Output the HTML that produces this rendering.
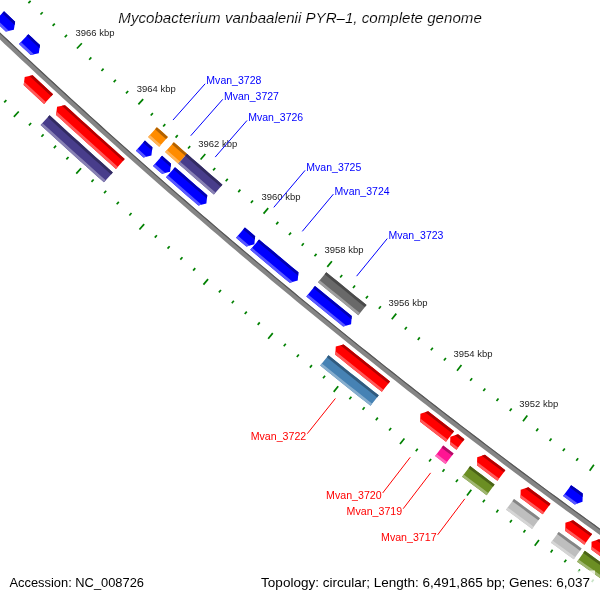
<!DOCTYPE html>
<html><head><meta charset="utf-8"><style>
html,body{margin:0;padding:0;background:#fff;width:600px;height:600px;overflow:hidden}
svg{display:block;will-change:transform}
text{font-family:"Liberation Sans",sans-serif}
.thin{stroke:#fff;stroke-width:0.15px}
</style></head><body>
<svg width="600" height="600" viewBox="0 0 600 600">
<defs></defs>
<rect width="600" height="600" fill="#fff"/>
<polygon points="-43.52,-9.11 -37.81,-3.61 -32.09,1.88 -26.37,7.37 -20.63,12.85 -14.89,18.32 -9.15,23.78 -3.39,29.23 2.37,34.68 8.14,40.12 13.91,45.55 19.69,50.97 25.49,56.39 31.28,61.80 37.09,67.20 42.90,72.59 48.72,77.97 54.55,83.35 60.38,88.72 66.22,94.08 72.07,99.43 77.93,104.77 83.79,110.11 89.66,115.44 95.54,120.76 101.42,126.07 107.31,131.38 113.21,136.68 119.12,141.97 125.03,147.25 130.95,152.52 136.88,157.79 142.81,163.04 148.75,168.29 154.70,173.53 160.66,178.77 166.62,183.99 172.59,189.21 178.57,194.42 184.55,199.62 190.54,204.81 196.54,210.00 202.54,215.17 208.56,220.34 214.57,225.50 220.60,230.66 226.63,235.80 232.67,240.94 238.72,246.07 244.77,251.19 250.83,256.30 256.90,261.40 262.97,266.50 269.05,271.58 275.14,276.66 281.24,281.73 287.34,286.80 293.44,291.85 299.56,296.90 305.68,301.93 311.81,306.96 317.95,311.99 324.09,317.00 330.24,322.00 336.39,327.00 342.55,331.99 348.72,336.97 354.90,341.94 361.08,346.90 367.27,351.86 373.47,356.81 379.67,361.74 385.88,366.67 392.09,371.59 398.32,376.51 404.54,381.41 410.78,386.31 417.02,391.20 423.27,396.08 429.53,400.95 435.79,405.81 442.06,410.66 448.33,415.51 454.61,420.35 460.90,425.18 467.20,430.00 473.50,434.81 479.80,439.61 486.12,444.41 492.44,449.19 498.76,453.97 505.10,458.74 511.44,463.50 517.78,468.25 524.14,473.00 530.50,477.73 536.86,482.46 543.23,487.18 549.61,491.89 555.99,496.59 562.39,501.28 568.78,505.96 575.19,510.64 581.60,515.30 588.01,519.96 594.43,524.61 600.86,529.25 607.30,533.88 613.74,538.50 620.18,543.12 626.64,547.72 633.10,552.32 630.08,556.56 623.62,551.96 617.16,547.35 610.71,542.73 604.26,538.10 597.82,533.47 591.39,528.82 584.96,524.17 578.54,519.51 572.12,514.84 565.71,510.16 559.31,505.47 552.91,500.78 546.52,496.07 540.14,491.36 533.76,486.64 527.39,481.90 521.03,477.17 514.67,472.42 508.32,467.66 501.97,462.90 495.63,458.12 489.30,453.34 482.98,448.55 476.66,443.75 470.34,438.94 464.04,434.13 457.74,429.30 451.44,424.47 445.16,419.63 438.88,414.78 432.60,409.92 426.33,405.05 420.07,400.18 413.82,395.29 407.57,390.40 401.33,385.50 395.10,380.59 388.87,375.67 382.65,370.75 376.43,365.81 370.22,360.87 364.02,355.92 357.83,350.96 351.64,345.99 345.46,341.02 339.28,336.03 333.12,331.04 326.96,326.04 320.80,321.03 314.65,316.01 308.51,310.99 302.38,305.95 296.25,300.91 290.13,295.86 284.02,290.80 277.91,285.73 271.81,280.66 265.72,275.57 259.63,270.48 253.55,265.38 247.48,260.27 241.42,255.16 235.36,250.03 229.31,244.90 223.26,239.76 217.22,234.61 211.19,229.45 205.17,224.29 199.15,219.12 193.14,213.93 187.14,208.74 181.14,203.55 175.15,198.34 169.17,193.13 163.20,187.91 157.23,182.68 151.27,177.44 145.31,172.19 139.37,166.94 133.43,161.68 127.49,156.41 121.57,151.13 115.65,145.84 109.74,140.55 103.84,135.25 97.94,129.94 92.05,124.62 86.17,119.29 80.29,113.96 74.42,108.62 68.56,103.27 62.71,97.91 56.86,92.54 51.02,87.17 45.19,81.79 39.37,76.40 33.55,71.01 27.74,65.60 21.94,60.19 16.14,54.77 10.35,49.34 4.57,43.90 -1.20,38.46 -6.97,33.01 -12.73,27.55 -18.48,22.08 -24.22,16.61 -29.96,11.13 -35.69,5.64 -41.41,0.14 -47.13,-5.37" fill="#858585"/>
<polygon points="-43.52,-9.11 -37.81,-3.61 -32.09,1.88 -26.37,7.37 -20.63,12.85 -14.89,18.32 -9.15,23.78 -3.39,29.23 2.37,34.68 8.14,40.12 13.91,45.55 19.69,50.97 25.49,56.39 31.28,61.80 37.09,67.20 42.90,72.59 48.72,77.97 54.55,83.35 60.38,88.72 66.22,94.08 72.07,99.43 77.93,104.77 83.79,110.11 89.66,115.44 95.54,120.76 101.42,126.07 107.31,131.38 113.21,136.68 119.12,141.97 125.03,147.25 130.95,152.52 136.88,157.79 142.81,163.04 148.75,168.29 154.70,173.53 160.66,178.77 166.62,183.99 172.59,189.21 178.57,194.42 184.55,199.62 190.54,204.81 196.54,210.00 202.54,215.17 208.56,220.34 214.57,225.50 220.60,230.66 226.63,235.80 232.67,240.94 238.72,246.07 244.77,251.19 250.83,256.30 256.90,261.40 262.97,266.50 269.05,271.58 275.14,276.66 281.24,281.73 287.34,286.80 293.44,291.85 299.56,296.90 305.68,301.93 311.81,306.96 317.95,311.99 324.09,317.00 330.24,322.00 336.39,327.00 342.55,331.99 348.72,336.97 354.90,341.94 361.08,346.90 367.27,351.86 373.47,356.81 379.67,361.74 385.88,366.67 392.09,371.59 398.32,376.51 404.54,381.41 410.78,386.31 417.02,391.20 423.27,396.08 429.53,400.95 435.79,405.81 442.06,410.66 448.33,415.51 454.61,420.35 460.90,425.18 467.20,430.00 473.50,434.81 479.80,439.61 486.12,444.41 492.44,449.19 498.76,453.97 505.10,458.74 511.44,463.50 517.78,468.25 524.14,473.00 530.50,477.73 536.86,482.46 543.23,487.18 549.61,491.89 555.99,496.59 562.39,501.28 568.78,505.96 575.19,510.64 581.60,515.30 588.01,519.96 594.43,524.61 600.86,529.25 607.30,533.88 613.74,538.50 620.18,543.12 626.64,547.72 633.10,552.32 632.46,553.22 626.00,548.62 619.54,544.01 613.10,539.40 606.65,534.77 600.22,530.14 593.79,525.50 587.37,520.85 580.95,516.19 574.54,511.53 568.13,506.85 561.73,502.17 555.34,497.47 548.96,492.77 542.58,488.06 536.21,483.34 529.84,478.61 523.48,473.88 517.13,469.13 510.78,464.38 504.44,459.62 498.10,454.85 491.77,450.07 485.45,445.28 479.14,440.49 472.83,435.68 466.53,430.87 460.23,426.05 453.94,421.22 447.66,416.38 441.38,411.53 435.11,406.68 428.85,401.82 422.59,396.94 416.34,392.06 410.10,387.17 403.86,382.28 397.63,377.37 391.41,372.46 385.19,367.54 378.98,362.60 372.78,357.67 366.58,352.72 360.39,347.76 354.21,342.80 348.03,337.83 341.86,332.84 335.70,327.86 329.54,322.86 323.39,317.85 317.25,312.84 311.11,307.82 304.98,302.78 298.86,297.75 292.74,292.70 286.63,287.64 280.53,282.58 274.44,277.51 268.35,272.43 262.27,267.34 256.19,262.24 250.12,257.14 244.06,252.03 238.01,246.90 231.96,241.78 225.92,236.64 219.89,231.49 213.86,226.34 207.84,221.18 201.83,216.01 195.82,210.83 189.82,205.64 183.83,200.45 177.84,195.25 171.87,190.04 165.90,184.82 159.93,179.59 153.98,174.36 148.03,169.12 142.08,163.87 136.15,158.61 130.22,153.34 124.30,148.07 118.38,142.79 112.48,137.50 106.58,132.20 100.68,126.89 94.80,121.58 88.92,116.25 83.05,110.92 77.19,105.59 71.33,100.24 65.48,94.89 59.64,89.53 53.80,84.16 47.97,78.78 42.15,73.39 36.34,68.00 30.53,62.60 24.73,57.19 18.94,51.78 13.16,46.35 7.38,40.92 1.61,35.48 -4.15,30.03 -9.91,24.58 -15.65,19.11 -21.39,13.64 -27.13,8.16 -32.85,2.68 -38.57,-2.82 -44.28,-8.32" fill="#555555"/>
<polygon points="4.06,11.22 9.59,16.46 15.13,21.70 13.88,29.87 5.80,31.59 0.24,26.34 -5.31,21.08" fill="#0000ff"/>
<polygon points="4.06,11.22 9.59,16.46 15.13,21.70 14.63,24.94 2.20,13.18" fill="#0000b2"/><polygon points="-3.45,19.13 9.01,30.91 5.80,31.59 0.24,26.34 -5.31,21.08" fill="#5959ff"/>
<polygon points="28.35,34.14 32.23,37.77 36.11,41.41 40.00,45.04 38.79,53.21 30.72,54.98 26.82,51.34 22.93,47.70 19.04,44.06" fill="#0000ff"/>
<polygon points="28.35,34.14 32.23,37.77 36.11,41.41 40.00,45.04 39.51,48.28 26.50,36.11" fill="#0000b2"/><polygon points="20.89,42.09 33.92,54.28 30.72,54.98 26.82,51.34 22.93,47.70 19.04,44.06" fill="#5959ff"/>
<polygon points="144.96,140.62 148.68,143.93 152.41,147.24 151.42,155.43 143.40,157.42 139.66,154.10 135.92,150.78" fill="#0000ff"/>
<polygon points="144.96,140.62 148.68,143.93 152.41,147.24 152.02,150.49 143.16,142.64" fill="#0000b2"/><polygon points="137.72,148.77 146.58,156.63 143.40,157.42 139.66,154.10 135.92,150.78" fill="#5959ff"/>
<polygon points="162.05,155.75 166.54,159.71 171.03,163.66 170.07,171.86 162.06,173.87 157.55,169.92 153.06,165.95" fill="#0000ff"/>
<polygon points="162.05,155.75 166.54,159.71 171.03,163.66 170.65,166.91 160.26,157.78" fill="#0000b2"/><polygon points="154.84,163.93 165.24,173.07 162.06,173.87 157.55,169.92 153.06,165.95" fill="#5959ff"/>
<polygon points="175.00,167.14 180.37,171.84 185.73,176.52 191.11,181.21 196.49,185.88 201.88,190.55 207.27,195.21 206.37,203.43 198.38,205.51 192.97,200.83 187.57,196.15 182.18,191.47 176.79,186.77 171.41,182.07 166.04,177.37" fill="#0000ff"/>
<polygon points="175.00,167.14 180.37,171.84 185.73,176.52 191.11,181.21 196.49,185.88 201.88,190.55 207.27,195.21 206.91,198.47 173.22,169.17" fill="#0000b2"/><polygon points="167.82,175.34 201.55,204.68 198.38,205.51 192.97,200.83 187.57,196.15 182.18,191.47 176.79,186.77 171.41,182.07 166.04,177.37" fill="#5959ff"/>
<polygon points="244.90,227.44 250.03,231.80 255.17,236.14 254.36,244.36 246.39,246.53 241.24,242.17 236.10,237.81" fill="#0000ff"/>
<polygon points="244.90,227.44 250.03,231.80 255.17,236.14 254.85,239.41 243.15,229.50" fill="#0000b2"/><polygon points="237.84,235.75 249.56,245.67 246.39,246.53 241.24,242.17 236.10,237.81" fill="#5959ff"/>
<polygon points="259.05,239.42 264.66,244.15 270.28,248.87 275.90,253.58 281.52,258.29 287.16,262.98 292.80,267.68 298.44,272.36 297.71,280.59 289.76,282.83 284.10,278.14 278.45,273.43 272.81,268.73 267.17,264.01 261.53,259.29 255.91,254.56 250.28,249.82" fill="#0000ff"/>
<polygon points="259.05,239.42 264.66,244.15 270.28,248.87 275.90,253.58 281.52,258.29 287.16,262.98 292.80,267.68 298.44,272.36 298.15,275.63 257.31,241.49" fill="#0000b2"/><polygon points="252.02,247.76 292.92,281.94 289.76,282.83 284.10,278.14 278.45,273.43 272.81,268.73 267.17,264.01 261.53,259.29 255.91,254.56 250.28,249.82" fill="#5959ff"/>
<polygon points="314.97,286.01 321.08,291.03 327.20,296.04 333.32,301.04 339.45,306.04 345.59,311.03 351.74,316.01 351.11,324.24 343.18,326.58 337.02,321.59 330.87,316.59 324.72,311.58 318.58,306.57 312.45,301.54 306.33,296.51" fill="#0000ff"/>
<polygon points="314.97,286.01 321.08,291.03 327.20,296.04 333.32,301.04 339.45,306.04 345.59,311.03 351.74,316.01 351.48,319.28 313.25,288.09" fill="#0000b2"/><polygon points="308.04,294.43 346.33,325.65 343.18,326.58 337.02,321.59 330.87,316.59 324.72,311.58 318.58,306.57 312.45,301.54 306.33,296.51" fill="#5959ff"/>
<polygon points="571.14,485.13 576.93,489.37 582.73,493.61 582.51,501.87 574.71,504.59 568.90,500.35 563.10,496.10" fill="#0000ff"/>
<polygon points="571.14,485.13 576.93,489.37 582.73,493.61 582.64,496.89 569.55,487.31" fill="#0000b2"/><polygon points="564.69,493.92 577.81,503.51 574.71,504.59 568.90,500.35 563.10,496.10" fill="#5959ff"/>
<polygon points="156.85,127.24 162.35,132.12 167.85,137.00 159.18,146.81 153.66,141.92 148.14,137.03" fill="#ff8c00"/>
<polygon points="156.85,127.24 162.35,132.12 167.85,137.00 166.07,139.02 160.56,134.14 155.05,129.26" fill="#b26200"/><polygon points="149.94,135.01 155.45,139.90 160.97,144.79 159.18,146.81 153.66,141.92 148.14,137.03" fill="#ffb459"/>
<polygon points="173.81,142.26 178.19,146.11 182.57,149.96 186.95,153.81 178.32,163.66 173.92,159.81 169.54,155.95 165.15,152.09" fill="#ff8c00"/>
<polygon points="173.81,142.26 178.19,146.11 182.57,149.96 186.95,153.81 185.17,155.84 180.79,151.99 176.41,148.14 172.03,144.29" fill="#b26200"/><polygon points="166.94,150.06 171.32,153.92 175.71,157.78 180.10,161.63 178.32,163.66 173.92,159.81 169.54,155.95 165.15,152.09" fill="#ffb459"/>
<polygon points="186.95,153.81 192.85,158.97 198.75,164.12 204.66,169.27 210.58,174.41 216.50,179.53 222.43,184.66 213.87,194.58 207.93,189.44 201.99,184.30 196.06,179.15 190.14,174.00 184.23,168.83 178.32,163.66" fill="#483d8b"/>
<polygon points="186.95,153.81 192.85,158.97 198.75,164.12 204.66,169.27 210.58,174.41 216.50,179.53 222.43,184.66 220.67,186.70 214.73,181.58 208.81,176.45 202.89,171.31 196.98,166.16 191.07,161.00 185.17,155.84" fill="#322b61"/><polygon points="180.10,161.63 186.00,166.80 191.92,171.96 197.84,177.12 203.76,182.26 209.70,187.40 215.64,192.53 213.87,194.58 207.93,189.44 201.99,184.30 196.06,179.15 190.14,174.00 184.23,168.83 178.32,163.66" fill="#8881b4"/>
<polygon points="326.34,272.18 332.07,276.89 337.80,281.59 343.54,286.28 349.28,290.96 355.03,295.64 360.79,300.31 366.55,304.97 358.32,315.16 352.54,310.49 346.77,305.81 341.01,301.12 335.25,296.43 329.50,291.72 323.76,287.02 318.02,282.30" fill="#696969"/>
<polygon points="326.34,272.18 332.07,276.89 337.80,281.59 343.54,286.28 349.28,290.96 355.03,295.64 360.79,300.31 366.55,304.97 364.85,307.07 359.09,302.40 353.33,297.73 347.58,293.05 341.83,288.37 336.09,283.68 330.35,278.98 324.62,274.27" fill="#4a4a4a"/><polygon points="319.73,280.22 325.47,284.93 331.21,289.64 336.96,294.33 342.72,299.03 348.48,303.71 354.24,308.39 360.01,313.06 358.32,315.16 352.54,310.49 346.77,305.81 341.01,301.12 335.25,296.43 329.50,291.72 323.76,287.02 318.02,282.30" fill="#9e9e9e"/>
<polygon points="24.71,76.99 32.66,75.36 37.74,80.08 42.84,84.79 47.93,89.49 53.04,94.19 44.10,103.91 38.99,99.20 33.88,94.48 28.78,89.76 23.68,85.04" fill="#ff0000"/>
<polygon points="29.41,76.03 32.66,75.36 37.74,80.08 42.84,84.79 47.93,89.49 53.04,94.19 51.21,96.18" fill="#b20000"/><polygon points="24.10,81.75 45.93,101.92 44.10,103.91 38.99,99.20 33.88,94.48 28.78,89.76 23.68,85.04" fill="#ff5959"/>
<polygon points="57.06,106.84 64.99,105.15 70.39,110.08 75.80,115.01 81.21,119.93 86.63,124.84 92.05,129.74 97.48,134.64 102.91,139.53 108.36,144.41 113.80,149.29 119.26,154.16 124.72,159.02 115.94,168.88 110.47,164.01 105.01,159.13 99.55,154.24 94.09,149.35 88.64,144.44 83.20,139.54 77.77,134.62 72.34,129.70 66.92,124.77 61.50,119.84 56.09,114.90" fill="#ff0000"/>
<polygon points="61.75,105.85 64.99,105.15 70.39,110.08 75.80,115.01 81.21,119.93 86.63,124.84 92.05,129.74 97.48,134.64 102.91,139.53 108.36,144.41 113.80,149.29 119.26,154.16 124.72,159.02 122.92,161.04" fill="#b20000"/><polygon points="56.49,111.60 117.74,166.86 115.94,168.88 110.47,164.01 105.01,159.13 99.55,154.24 94.09,149.35 88.64,144.44 83.20,139.54 77.77,134.62 72.34,129.70 66.92,124.77 61.50,119.84 56.09,114.90" fill="#ff5959"/>
<polygon points="335.78,346.57 343.59,344.39 349.37,349.04 355.16,353.69 360.95,358.33 366.75,362.97 372.56,367.59 378.37,372.21 384.19,376.82 390.02,381.42 381.84,391.79 376.00,387.17 370.17,382.55 364.34,377.92 358.52,373.28 352.71,368.64 346.90,363.99 341.10,359.33 335.30,354.67" fill="#ff0000"/>
<polygon points="340.39,345.28 343.59,344.39 349.37,349.04 355.16,353.69 360.95,358.33 366.75,362.97 372.56,367.59 378.37,372.21 384.19,376.82 390.02,381.42 388.34,383.54" fill="#b20000"/><polygon points="335.50,351.35 383.51,389.67 381.84,391.79 376.00,387.17 370.17,382.55 364.34,377.92 358.52,373.28 352.71,368.64 346.90,363.99 341.10,359.33 335.30,354.67" fill="#ff5959"/>
<polygon points="420.42,413.63 428.19,411.31 433.35,415.31 438.51,419.30 443.68,423.29 448.86,427.28 454.04,431.25 446.00,441.73 440.81,437.74 435.62,433.75 430.44,429.75 425.27,425.74 420.09,421.73" fill="#ff0000"/>
<polygon points="425.01,412.26 428.19,411.31 433.35,415.31 438.51,419.30 443.68,423.29 448.86,427.28 454.04,431.25 452.39,433.40" fill="#b20000"/><polygon points="420.23,418.42 447.64,439.58 446.00,441.73 440.81,437.74 435.62,433.75 430.44,429.75 425.27,425.74 420.09,421.73" fill="#ff5959"/>
<polygon points="450.34,436.73 458.09,434.36 464.45,439.23 456.44,449.72 450.06,444.84" fill="#ff0000"/>
<polygon points="454.92,435.33 458.09,434.36 464.45,439.23 462.82,441.38" fill="#b20000"/><polygon points="450.17,441.52 458.08,447.57 456.44,449.72 450.06,444.84" fill="#ff5959"/>
<polygon points="477.20,457.23 484.94,454.81 490.04,458.66 495.13,462.50 500.24,466.34 505.34,470.18 497.42,480.74 492.30,476.90 487.19,473.05 482.08,469.19 476.98,465.33" fill="#ff0000"/>
<polygon points="481.78,455.80 484.94,454.81 490.04,458.66 495.13,462.50 500.24,466.34 505.34,470.18 503.72,472.34" fill="#b20000"/><polygon points="477.07,462.02 499.04,478.58 497.42,480.74 492.30,476.90 487.19,473.05 482.08,469.19 476.98,465.33" fill="#ff5959"/>
<polygon points="520.66,489.86 528.38,487.37 533.91,491.47 539.44,495.57 544.99,499.66 550.53,503.74 542.71,514.37 537.15,510.28 531.60,506.18 526.05,502.08 520.51,497.97" fill="#ff0000"/>
<polygon points="525.22,488.39 528.38,487.37 533.91,491.47 539.44,495.57 544.99,499.66 550.53,503.74 548.93,505.91" fill="#b20000"/><polygon points="520.57,494.65 544.31,512.20 542.71,514.37 537.15,510.28 531.60,506.18 526.05,502.08 520.51,497.97" fill="#ff5959"/>
<polygon points="565.39,522.80 573.08,520.24 579.40,524.83 585.73,529.42 592.06,534.00 584.33,544.70 577.99,540.11 571.65,535.51 565.31,530.91" fill="#ff0000"/>
<polygon points="569.94,521.29 573.08,520.24 579.40,524.83 585.73,529.42 592.06,534.00 590.48,536.18" fill="#b20000"/><polygon points="565.34,527.59 585.91,542.51 584.33,544.70 577.99,540.11 571.65,535.51 565.31,530.91" fill="#ff5959"/>
<polygon points="591.53,541.75 599.21,539.15 605.33,543.55 611.47,547.95 617.60,552.34 623.75,556.72 629.90,561.09 636.05,565.45 628.43,576.22 622.26,571.85 616.09,567.47 609.94,563.08 603.78,558.68 597.64,554.28 591.50,549.86" fill="#ff0000"/>
<polygon points="596.07,540.21 599.21,539.15 605.33,543.55 611.47,547.95 617.60,552.34 623.75,556.72 629.90,561.09 636.05,565.45 634.49,567.65" fill="#b20000"/><polygon points="591.51,546.54 629.99,574.02 628.43,576.22 622.26,571.85 616.09,567.47 609.94,563.08 603.78,558.68 597.64,554.28 591.50,549.86" fill="#ff5959"/>
<polygon points="49.58,115.31 55.30,120.54 61.02,125.76 66.75,130.97 72.48,136.17 78.22,141.37 83.97,146.56 89.73,151.74 95.49,156.92 101.26,162.08 107.04,167.24 112.82,172.39 103.98,182.33 98.18,177.17 92.39,172.00 86.61,166.82 80.84,161.63 75.07,156.44 69.31,151.24 63.55,146.03 57.80,140.81 52.06,135.59 46.33,130.36 40.60,125.12" fill="#483d8b"/>
<polygon points="49.58,115.31 55.30,120.54 61.02,125.76 66.75,130.97 72.48,136.17 78.22,141.37 83.97,146.56 89.73,151.74 95.49,156.92 101.26,162.08 107.04,167.24 112.82,172.39 111.02,174.41 105.24,169.26 99.46,164.10 93.69,158.93 87.92,153.75 82.16,148.57 76.41,143.37 70.67,138.18 64.93,132.97 59.20,127.75 53.47,122.53 47.76,117.30" fill="#322b61"/><polygon points="42.42,123.13 48.15,128.37 53.88,133.59 59.62,138.82 65.36,144.03 71.12,149.24 76.87,154.43 82.64,159.62 88.41,164.81 94.19,169.98 99.98,175.15 105.77,180.31 103.98,182.33 98.18,177.17 92.39,172.00 86.61,166.82 80.84,161.63 75.07,156.44 69.31,151.24 63.55,146.03 57.80,140.81 52.06,135.59 46.33,130.36 40.60,125.12" fill="#8881b4"/>
<polygon points="328.52,355.23 334.08,359.72 339.65,364.20 345.22,368.67 350.80,373.13 356.38,377.59 361.97,382.04 367.56,386.48 373.16,390.92 378.77,395.35 370.53,405.79 364.91,401.35 359.30,396.90 353.69,392.45 348.09,387.99 342.50,383.52 336.91,379.05 331.32,374.56 325.74,370.08 320.17,365.58" fill="#4682b4"/>
<polygon points="328.52,355.23 334.08,359.72 339.65,364.20 345.22,368.67 350.80,373.13 356.38,377.59 361.97,382.04 367.56,386.48 373.16,390.92 378.77,395.35 377.09,397.47 371.49,393.04 365.89,388.60 360.29,384.15 354.70,379.70 349.11,375.24 343.53,370.77 337.96,366.30 332.39,361.82 326.83,357.34" fill="#315b7e"/><polygon points="321.86,363.48 327.43,367.97 333.01,372.46 338.59,376.94 344.18,381.41 349.77,385.88 355.37,390.33 360.98,394.79 366.58,399.23 372.20,403.67 370.53,405.79 364.91,401.35 359.30,396.90 353.69,392.45 348.09,387.99 342.50,383.52 336.91,379.05 331.32,374.56 325.74,370.08 320.17,365.58" fill="#87aece"/>
<polygon points="443.22,445.52 448.40,449.49 453.59,453.45 445.52,464.02 440.32,460.05 435.12,456.07" fill="#ff1493"/>
<polygon points="443.22,445.52 448.40,449.49 453.59,453.45 451.95,455.60 446.76,451.63 441.58,447.66" fill="#b20e67"/><polygon points="436.77,453.93 441.96,457.90 447.15,461.88 445.52,464.02 440.32,460.05 435.12,456.07" fill="#ff66b9"/>
<polygon points="470.14,466.05 476.24,470.67 482.36,475.29 488.48,479.90 494.60,484.50 486.62,495.14 480.48,490.53 474.35,485.91 468.22,481.28 462.10,476.65" fill="#6b8e23"/>
<polygon points="470.14,466.05 476.24,470.67 482.36,475.29 488.48,479.90 494.60,484.50 492.98,486.66 486.85,482.06 480.73,477.44 474.62,472.83 468.51,468.20" fill="#4b6318"/><polygon points="463.73,474.49 469.85,479.13 475.97,483.75 482.10,488.37 488.24,492.98 486.62,495.14 480.48,490.53 474.35,485.91 468.22,481.28 462.10,476.65" fill="#9fb670"/>
<polygon points="514.00,498.99 519.18,502.83 524.36,506.67 529.54,510.51 534.73,514.34 539.93,518.16 532.05,528.88 526.84,525.04 521.64,521.21 516.44,517.36 511.25,513.51 506.06,509.66" fill="#bebebe"/>
<polygon points="514.00,498.99 519.18,502.83 524.36,506.67 529.54,510.51 534.73,514.34 539.93,518.16 538.33,520.34 533.13,516.51 527.94,512.68 522.75,508.84 517.57,505.00 512.39,501.15" fill="#858585"/><polygon points="507.67,507.49 512.86,511.34 518.05,515.19 523.24,519.03 528.44,522.87 533.65,526.70 532.05,528.88 526.84,525.04 521.64,521.21 516.44,517.36 511.25,513.51 506.06,509.66" fill="#d5d5d5"/>
<polygon points="558.73,531.93 564.44,536.08 570.15,540.23 575.86,544.37 581.58,548.51 573.79,559.29 568.06,555.15 562.33,551.00 556.61,546.84 550.89,542.68" fill="#bebebe"/>
<polygon points="558.73,531.93 564.44,536.08 570.15,540.23 575.86,544.37 581.58,548.51 580.00,550.70 574.28,546.56 568.56,542.42 562.85,538.27 557.14,534.11" fill="#858585"/><polygon points="552.49,540.49 558.20,544.66 563.92,548.81 569.65,552.96 575.37,557.10 573.79,559.29 568.06,555.15 562.33,551.00 556.61,546.84 550.89,542.68" fill="#d5d5d5"/>
<polygon points="584.84,550.86 590.66,555.05 596.49,559.24 602.32,563.42 608.16,567.59 614.01,571.75 619.86,575.91 625.71,580.06 618.02,590.91 612.16,586.75 606.29,582.59 600.44,578.41 594.59,574.23 588.74,570.05 582.90,565.85 577.06,561.65" fill="#6b8e23"/>
<polygon points="584.84,550.86 590.66,555.05 596.49,559.24 602.32,563.42 608.16,567.59 614.01,571.75 619.86,575.91 625.71,580.06 624.15,582.26 618.29,578.11 612.44,573.95 606.59,569.79 600.75,565.61 594.92,561.43 589.09,557.24 583.26,553.05" fill="#4b6318"/><polygon points="578.64,559.46 584.47,563.66 590.31,567.85 596.16,572.04 602.01,576.22 607.86,580.39 613.72,584.55 619.58,588.71 618.02,590.91 612.16,586.75 606.29,582.59 600.44,578.41 594.59,574.23 588.74,570.05 582.90,565.85 577.06,561.65" fill="#9fb670"/>
<line x1="-19.63" y1="-42.77" x2="-17.41" y2="-45.07" stroke="#008000" stroke-width="1.7"/>
<line x1="-79.27" y1="18.92" x2="-81.49" y2="21.22" stroke="#008000" stroke-width="1.7"/>
<line x1="-7.67" y1="-31.24" x2="-5.46" y2="-33.54" stroke="#008000" stroke-width="1.7"/>
<line x1="-67.14" y1="30.62" x2="-69.35" y2="32.93" stroke="#008000" stroke-width="1.7"/>
<line x1="4.32" y1="-19.74" x2="6.53" y2="-22.05" stroke="#008000" stroke-width="1.7"/>
<line x1="-54.97" y1="42.28" x2="-57.18" y2="44.60" stroke="#008000" stroke-width="1.7"/>
<line x1="16.34" y1="-8.28" x2="21.30" y2="-13.50" stroke="#008000" stroke-width="1.7"/>
<line x1="-42.76" y1="53.91" x2="-47.72" y2="59.13" stroke="#008000" stroke-width="1.7"/>
<line x1="28.40" y1="3.15" x2="30.60" y2="0.82" stroke="#008000" stroke-width="1.7"/>
<line x1="-30.53" y1="65.51" x2="-32.73" y2="67.83" stroke="#008000" stroke-width="1.7"/>
<line x1="40.49" y1="14.54" x2="42.68" y2="12.21" stroke="#008000" stroke-width="1.7"/>
<line x1="-18.26" y1="77.07" x2="-20.45" y2="79.40" stroke="#008000" stroke-width="1.7"/>
<line x1="52.61" y1="25.90" x2="54.80" y2="23.56" stroke="#008000" stroke-width="1.7"/>
<line x1="-5.96" y1="88.59" x2="-8.14" y2="90.93" stroke="#008000" stroke-width="1.7"/>
<line x1="64.77" y1="37.22" x2="66.95" y2="34.88" stroke="#008000" stroke-width="1.7"/>
<line x1="6.37" y1="100.08" x2="4.20" y2="102.43" stroke="#008000" stroke-width="1.7"/>
<line x1="76.96" y1="48.51" x2="81.84" y2="43.22" stroke="#008000" stroke-width="1.7"/>
<line x1="18.74" y1="111.54" x2="13.85" y2="116.83" stroke="#008000" stroke-width="1.7"/>
<line x1="89.18" y1="59.77" x2="91.34" y2="57.41" stroke="#008000" stroke-width="1.7"/>
<line x1="31.14" y1="122.96" x2="28.97" y2="125.32" stroke="#008000" stroke-width="1.7"/>
<line x1="101.43" y1="70.99" x2="103.59" y2="68.62" stroke="#008000" stroke-width="1.7"/>
<line x1="43.57" y1="134.34" x2="41.41" y2="136.71" stroke="#008000" stroke-width="1.7"/>
<line x1="113.71" y1="82.17" x2="115.86" y2="79.80" stroke="#008000" stroke-width="1.7"/>
<line x1="56.03" y1="145.69" x2="53.88" y2="148.06" stroke="#008000" stroke-width="1.7"/>
<line x1="126.03" y1="93.32" x2="128.17" y2="90.95" stroke="#008000" stroke-width="1.7"/>
<line x1="68.53" y1="157.01" x2="66.38" y2="159.38" stroke="#008000" stroke-width="1.7"/>
<line x1="138.37" y1="104.44" x2="143.18" y2="99.08" stroke="#008000" stroke-width="1.7"/>
<line x1="81.06" y1="168.28" x2="76.25" y2="173.64" stroke="#008000" stroke-width="1.7"/>
<line x1="150.75" y1="115.52" x2="152.88" y2="113.13" stroke="#008000" stroke-width="1.7"/>
<line x1="93.62" y1="179.53" x2="91.49" y2="181.91" stroke="#008000" stroke-width="1.7"/>
<line x1="163.16" y1="126.56" x2="165.28" y2="124.17" stroke="#008000" stroke-width="1.7"/>
<line x1="106.21" y1="190.73" x2="104.08" y2="193.13" stroke="#008000" stroke-width="1.7"/>
<line x1="175.60" y1="137.57" x2="177.72" y2="135.17" stroke="#008000" stroke-width="1.7"/>
<line x1="118.83" y1="201.90" x2="116.72" y2="204.30" stroke="#008000" stroke-width="1.7"/>
<line x1="188.07" y1="148.54" x2="190.18" y2="146.14" stroke="#008000" stroke-width="1.7"/>
<line x1="131.49" y1="213.04" x2="129.38" y2="215.44" stroke="#008000" stroke-width="1.7"/>
<line x1="200.58" y1="159.48" x2="205.31" y2="154.05" stroke="#008000" stroke-width="1.7"/>
<line x1="144.17" y1="224.14" x2="139.44" y2="229.56" stroke="#008000" stroke-width="1.7"/>
<line x1="213.11" y1="170.38" x2="215.21" y2="167.97" stroke="#008000" stroke-width="1.7"/>
<line x1="156.89" y1="235.20" x2="154.80" y2="237.62" stroke="#008000" stroke-width="1.7"/>
<line x1="225.68" y1="181.25" x2="227.77" y2="178.83" stroke="#008000" stroke-width="1.7"/>
<line x1="169.64" y1="246.23" x2="167.55" y2="248.65" stroke="#008000" stroke-width="1.7"/>
<line x1="238.27" y1="192.08" x2="240.35" y2="189.65" stroke="#008000" stroke-width="1.7"/>
<line x1="182.42" y1="257.22" x2="180.34" y2="259.65" stroke="#008000" stroke-width="1.7"/>
<line x1="250.90" y1="202.88" x2="252.97" y2="200.44" stroke="#008000" stroke-width="1.7"/>
<line x1="195.24" y1="268.17" x2="193.16" y2="270.61" stroke="#008000" stroke-width="1.7"/>
<line x1="263.56" y1="213.63" x2="268.21" y2="208.14" stroke="#008000" stroke-width="1.7"/>
<line x1="208.08" y1="279.09" x2="203.43" y2="284.58" stroke="#008000" stroke-width="1.7"/>
<line x1="276.24" y1="224.36" x2="278.31" y2="221.91" stroke="#008000" stroke-width="1.7"/>
<line x1="220.96" y1="289.97" x2="218.89" y2="292.42" stroke="#008000" stroke-width="1.7"/>
<line x1="288.96" y1="235.05" x2="291.02" y2="232.59" stroke="#008000" stroke-width="1.7"/>
<line x1="233.86" y1="300.81" x2="231.81" y2="303.27" stroke="#008000" stroke-width="1.7"/>
<line x1="301.71" y1="245.70" x2="303.76" y2="243.24" stroke="#008000" stroke-width="1.7"/>
<line x1="246.80" y1="311.62" x2="244.75" y2="314.08" stroke="#008000" stroke-width="1.7"/>
<line x1="314.49" y1="256.31" x2="316.53" y2="253.85" stroke="#008000" stroke-width="1.7"/>
<line x1="259.76" y1="322.39" x2="257.72" y2="324.85" stroke="#008000" stroke-width="1.7"/>
<line x1="327.30" y1="266.89" x2="331.88" y2="261.33" stroke="#008000" stroke-width="1.7"/>
<line x1="272.76" y1="333.12" x2="268.18" y2="338.68" stroke="#008000" stroke-width="1.7"/>
<line x1="340.14" y1="277.43" x2="342.17" y2="274.95" stroke="#008000" stroke-width="1.7"/>
<line x1="285.79" y1="343.82" x2="283.76" y2="346.30" stroke="#008000" stroke-width="1.7"/>
<line x1="353.01" y1="287.94" x2="355.03" y2="285.45" stroke="#008000" stroke-width="1.7"/>
<line x1="298.85" y1="354.48" x2="296.83" y2="356.96" stroke="#008000" stroke-width="1.7"/>
<line x1="365.91" y1="298.40" x2="367.92" y2="295.92" stroke="#008000" stroke-width="1.7"/>
<line x1="311.94" y1="365.10" x2="309.92" y2="367.59" stroke="#008000" stroke-width="1.7"/>
<line x1="378.84" y1="308.84" x2="380.84" y2="306.34" stroke="#008000" stroke-width="1.7"/>
<line x1="325.06" y1="375.69" x2="323.05" y2="378.18" stroke="#008000" stroke-width="1.7"/>
<line x1="391.80" y1="319.23" x2="396.29" y2="313.61" stroke="#008000" stroke-width="1.7"/>
<line x1="338.20" y1="386.23" x2="333.71" y2="391.86" stroke="#008000" stroke-width="1.7"/>
<line x1="404.78" y1="329.59" x2="406.78" y2="327.08" stroke="#008000" stroke-width="1.7"/>
<line x1="351.38" y1="396.74" x2="349.39" y2="399.25" stroke="#008000" stroke-width="1.7"/>
<line x1="417.80" y1="339.91" x2="419.79" y2="337.40" stroke="#008000" stroke-width="1.7"/>
<line x1="364.59" y1="407.22" x2="362.61" y2="409.73" stroke="#008000" stroke-width="1.7"/>
<line x1="430.85" y1="350.19" x2="432.83" y2="347.68" stroke="#008000" stroke-width="1.7"/>
<line x1="377.83" y1="417.65" x2="375.85" y2="420.17" stroke="#008000" stroke-width="1.7"/>
<line x1="443.92" y1="360.44" x2="445.89" y2="357.92" stroke="#008000" stroke-width="1.7"/>
<line x1="391.10" y1="428.05" x2="389.13" y2="430.57" stroke="#008000" stroke-width="1.7"/>
<line x1="457.03" y1="370.65" x2="461.45" y2="364.96" stroke="#008000" stroke-width="1.7"/>
<line x1="404.40" y1="438.41" x2="399.98" y2="444.09" stroke="#008000" stroke-width="1.7"/>
<line x1="470.16" y1="380.82" x2="472.12" y2="378.29" stroke="#008000" stroke-width="1.7"/>
<line x1="417.72" y1="448.73" x2="415.77" y2="451.26" stroke="#008000" stroke-width="1.7"/>
<line x1="483.33" y1="390.96" x2="485.27" y2="388.42" stroke="#008000" stroke-width="1.7"/>
<line x1="431.08" y1="459.01" x2="429.13" y2="461.55" stroke="#008000" stroke-width="1.7"/>
<line x1="496.52" y1="401.05" x2="498.46" y2="398.51" stroke="#008000" stroke-width="1.7"/>
<line x1="444.46" y1="469.26" x2="442.52" y2="471.80" stroke="#008000" stroke-width="1.7"/>
<line x1="509.74" y1="411.11" x2="511.67" y2="408.56" stroke="#008000" stroke-width="1.7"/>
<line x1="457.88" y1="479.47" x2="455.94" y2="482.02" stroke="#008000" stroke-width="1.7"/>
<line x1="522.99" y1="421.14" x2="527.32" y2="415.39" stroke="#008000" stroke-width="1.7"/>
<line x1="471.32" y1="489.64" x2="466.99" y2="495.39" stroke="#008000" stroke-width="1.7"/>
<line x1="536.26" y1="431.12" x2="538.18" y2="428.56" stroke="#008000" stroke-width="1.7"/>
<line x1="484.79" y1="499.77" x2="482.87" y2="502.33" stroke="#008000" stroke-width="1.7"/>
<line x1="549.57" y1="441.07" x2="551.48" y2="438.50" stroke="#008000" stroke-width="1.7"/>
<line x1="498.30" y1="509.86" x2="496.38" y2="512.43" stroke="#008000" stroke-width="1.7"/>
<line x1="562.90" y1="450.98" x2="564.81" y2="448.40" stroke="#008000" stroke-width="1.7"/>
<line x1="511.82" y1="519.91" x2="509.92" y2="522.49" stroke="#008000" stroke-width="1.7"/>
<line x1="576.27" y1="460.85" x2="578.16" y2="458.27" stroke="#008000" stroke-width="1.7"/>
<line x1="525.38" y1="529.93" x2="523.49" y2="532.51" stroke="#008000" stroke-width="1.7"/>
<line x1="589.66" y1="470.68" x2="593.91" y2="464.87" stroke="#008000" stroke-width="1.7"/>
<line x1="538.97" y1="539.91" x2="534.72" y2="545.72" stroke="#008000" stroke-width="1.7"/>
<line x1="603.07" y1="480.47" x2="604.96" y2="477.89" stroke="#008000" stroke-width="1.7"/>
<line x1="552.59" y1="549.85" x2="550.70" y2="552.43" stroke="#008000" stroke-width="1.7"/>
<line x1="616.52" y1="490.23" x2="618.39" y2="487.64" stroke="#008000" stroke-width="1.7"/>
<line x1="566.23" y1="559.75" x2="564.35" y2="562.34" stroke="#008000" stroke-width="1.7"/>
<line x1="629.99" y1="499.95" x2="631.86" y2="497.35" stroke="#008000" stroke-width="1.7"/>
<line x1="579.90" y1="569.61" x2="578.03" y2="572.21" stroke="#008000" stroke-width="1.7"/>
<line x1="643.49" y1="509.63" x2="645.35" y2="507.02" stroke="#008000" stroke-width="1.7"/>
<line x1="593.60" y1="579.43" x2="591.74" y2="582.03" stroke="#008000" stroke-width="1.7"/>
<line x1="657.02" y1="519.27" x2="661.19" y2="513.40" stroke="#008000" stroke-width="1.7"/>
<line x1="607.33" y1="589.21" x2="603.16" y2="595.08" stroke="#008000" stroke-width="1.7"/>
<line x1="670.58" y1="528.87" x2="672.42" y2="526.26" stroke="#008000" stroke-width="1.7"/>
<line x1="621.08" y1="598.96" x2="619.24" y2="601.57" stroke="#008000" stroke-width="1.7"/>
<line x1="684.16" y1="538.44" x2="686.00" y2="535.82" stroke="#008000" stroke-width="1.7"/>
<line x1="634.86" y1="608.66" x2="633.03" y2="611.28" stroke="#008000" stroke-width="1.7"/>
<line x1="697.77" y1="547.96" x2="699.60" y2="545.34" stroke="#008000" stroke-width="1.7"/>
<line x1="648.67" y1="618.33" x2="646.84" y2="620.95" stroke="#008000" stroke-width="1.7"/>
<line x1="711.41" y1="557.45" x2="713.23" y2="554.82" stroke="#008000" stroke-width="1.7"/>
<line x1="662.51" y1="627.95" x2="660.69" y2="630.58" stroke="#008000" stroke-width="1.7"/>
<text x="75.5" y="35.9" font-size="9" fill="#222" textLength="39" lengthAdjust="spacingAndGlyphs">3966 kbp</text>
<text x="136.7" y="91.89999999999999" font-size="9" fill="#222" textLength="39" lengthAdjust="spacingAndGlyphs">3964 kbp</text>
<text x="198.25" y="146.85" font-size="9" fill="#222" textLength="39" lengthAdjust="spacingAndGlyphs">3962 kbp</text>
<text x="261.5" y="199.6" font-size="9" fill="#222" textLength="39" lengthAdjust="spacingAndGlyphs">3960 kbp</text>
<text x="324.5" y="252.6" font-size="9" fill="#222" textLength="39" lengthAdjust="spacingAndGlyphs">3958 kbp</text>
<text x="388.5" y="305.6" font-size="9" fill="#222" textLength="39" lengthAdjust="spacingAndGlyphs">3956 kbp</text>
<text x="453.5" y="356.6" font-size="9" fill="#222" textLength="39" lengthAdjust="spacingAndGlyphs">3954 kbp</text>
<text x="519.3" y="406.90000000000003" font-size="9" fill="#222" textLength="39" lengthAdjust="spacingAndGlyphs">3952 kbp</text>
<line x1="172.99" y1="120.04" x2="205.16" y2="83.75" stroke="#0000ff" stroke-width="1"/>
<text x="206.36" y="84.35" font-size="11" fill="#0000ff" textLength="55" lengthAdjust="spacingAndGlyphs">Mvan_3728</text>
<line x1="190.75" y1="135.72" x2="222.77" y2="99.30" stroke="#0000ff" stroke-width="1"/>
<text x="223.97" y="99.90" font-size="11" fill="#0000ff" textLength="55" lengthAdjust="spacingAndGlyphs">Mvan_3727</text>
<line x1="215.19" y1="157.09" x2="247.01" y2="120.49" stroke="#0000ff" stroke-width="1"/>
<text x="248.21" y="121.09" font-size="11" fill="#0000ff" textLength="55" lengthAdjust="spacingAndGlyphs">Mvan_3726</text>
<line x1="273.79" y1="207.36" x2="305.12" y2="170.34" stroke="#0000ff" stroke-width="1"/>
<text x="306.32" y="170.94" font-size="11" fill="#0000ff" textLength="55" lengthAdjust="spacingAndGlyphs">Mvan_3725</text>
<line x1="302.31" y1="231.35" x2="333.41" y2="194.13" stroke="#0000ff" stroke-width="1"/>
<text x="334.61" y="194.73" font-size="11" fill="#0000ff" textLength="55" lengthAdjust="spacingAndGlyphs">Mvan_3724</text>
<line x1="356.62" y1="276.17" x2="387.27" y2="238.58" stroke="#0000ff" stroke-width="1"/>
<text x="388.47" y="239.18" font-size="11" fill="#0000ff" textLength="55" lengthAdjust="spacingAndGlyphs">Mvan_3723</text>
<line x1="335.40" y1="398.46" x2="307.27" y2="433.71" stroke="#ff0000" stroke-width="1"/>
<text x="306.27" y="439.71" font-size="11" fill="#ff0000" text-anchor="end" textLength="55.6" lengthAdjust="spacingAndGlyphs">Mvan_3722</text>
<line x1="410.28" y1="457.26" x2="382.71" y2="492.95" stroke="#ff0000" stroke-width="1"/>
<text x="381.71" y="498.95" font-size="11" fill="#ff0000" text-anchor="end" textLength="55.6" lengthAdjust="spacingAndGlyphs">Mvan_3720</text>
<line x1="430.61" y1="472.89" x2="403.20" y2="508.71" stroke="#ff0000" stroke-width="1"/>
<text x="402.20" y="514.71" font-size="11" fill="#ff0000" text-anchor="end" textLength="55.6" lengthAdjust="spacingAndGlyphs">Mvan_3719</text>
<line x1="464.78" y1="498.85" x2="437.62" y2="534.86" stroke="#ff0000" stroke-width="1"/>
<text x="436.62" y="540.86" font-size="11" fill="#ff0000" text-anchor="end" textLength="55.6" lengthAdjust="spacingAndGlyphs">Mvan_3717</text>
<rect x="255" y="570.5" width="340" height="30" fill="#ffffff" fill-opacity="0.78"/>
<rect x="3" y="570.5" width="146" height="30" fill="#ffffff" fill-opacity="0.78"/>
<text class="thin" x="118.3" y="22.5" font-size="14" font-style="italic" fill="#000" textLength="363.5" lengthAdjust="spacingAndGlyphs">Mycobacterium vanbaalenii PYR–1, complete genome</text>
<text x="9.5" y="587.25" font-size="13" fill="#000" textLength="134.5" lengthAdjust="spacingAndGlyphs">Accession: NC_008726</text>
<text x="261.1" y="587" font-size="13" fill="#000" textLength="329" lengthAdjust="spacingAndGlyphs">Topology: circular; Length: 6,491,865 bp; Genes: 6,037</text>
</svg></body></html>
